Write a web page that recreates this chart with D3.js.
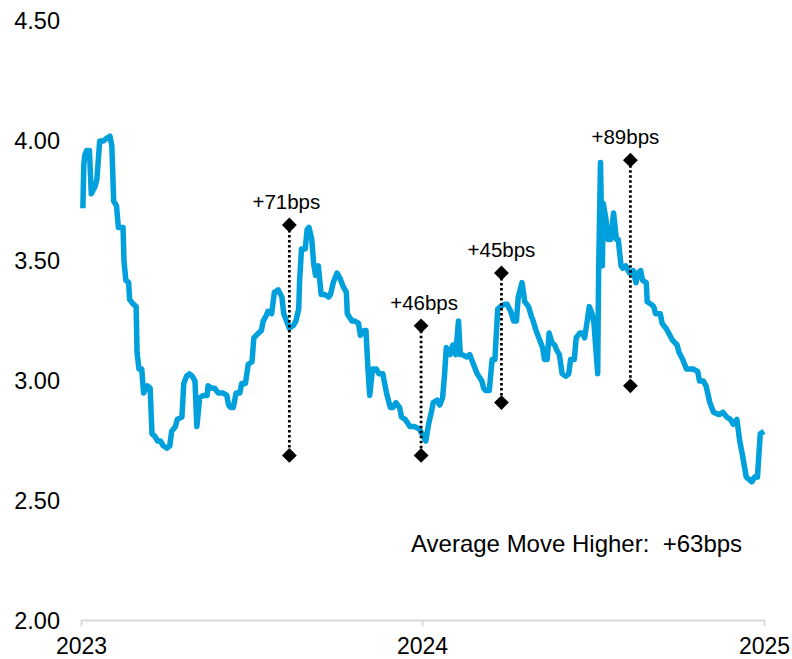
<!DOCTYPE html>
<html>
<head>
<meta charset="utf-8">
<script src="https://cdn.jsdelivr.net/npm/d3@7"></script>
<style>
  html, body { margin: 0; padding: 0; background: #fff; }
  svg { display: block; font-family: "Liberation Sans", Arial, sans-serif; }
</style>
</head>
<body>
<svg id="chart" width="792" height="659"></svg>
<script>
// Yield series (daily closes, %)
const dates = [
  "2023-01-03","2023-01-04","2023-01-05","2023-01-07","2023-01-10","2023-01-12","2023-01-16","2023-01-18",
  "2023-01-21","2023-01-25","2023-01-28","2023-02-01","2023-02-03","2023-02-05","2023-02-08","2023-02-10",
  "2023-02-15","2023-02-16","2023-02-18","2023-02-21","2023-02-22","2023-02-26","2023-03-01","2023-03-02",
  "2023-03-04","2023-03-07","2023-03-09","2023-03-13","2023-03-16","2023-03-18","2023-03-21","2023-03-24",
  "2023-03-27","2023-03-30","2023-04-03","2023-04-06","2023-04-08","2023-04-10","2023-04-12","2023-04-14",
  "2023-04-19","2023-04-21","2023-04-24","2023-04-27","2023-04-30","2023-05-03","2023-05-05","2023-05-08",
  "2023-05-12","2023-05-16","2023-05-17","2023-05-21","2023-05-24","2023-05-28","2023-06-02","2023-06-06",
  "2023-06-08","2023-06-10","2023-06-13","2023-06-16","2023-06-20","2023-06-22","2023-06-26","2023-06-29",
  "2023-07-03","2023-07-05","2023-07-10","2023-07-13","2023-07-15","2023-07-18","2023-07-20","2023-07-24",
  "2023-07-27","2023-07-31","2023-08-04","2023-08-06","2023-08-09","2023-08-12","2023-08-16","2023-08-19",
  "2023-08-22","2023-08-23","2023-08-25","2023-08-29","2023-08-31","2023-09-02","2023-09-05","2023-09-07",
  "2023-09-09","2023-09-12","2023-09-15","2023-09-19","2023-09-23","2023-09-25","2023-09-28","2023-10-02",
  "2023-10-05","2023-10-09","2023-10-12","2023-10-13","2023-10-18","2023-10-21","2023-10-25","2023-10-27",
  "2023-10-31","2023-11-02","2023-11-04","2023-11-06","2023-11-09","2023-11-13","2023-11-16","2023-11-20",
  "2023-11-24","2023-11-28","2023-12-01","2023-12-04","2023-12-08","2023-12-10","2023-12-14","2023-12-19",
  "2023-12-24","2023-12-29","2024-01-01","2024-01-05","2024-01-08","2024-01-11","2024-01-13","2024-01-17",
  "2024-01-20","2024-01-23","2024-01-25","2024-01-27","2024-01-31","2024-02-03","2024-02-06","2024-02-09",
  "2024-02-11","2024-02-13","2024-02-18","2024-02-21","2024-02-25","2024-02-29","2024-03-05","2024-03-07",
  "2024-03-09","2024-03-13","2024-03-16","2024-03-19","2024-03-22","2024-03-25","2024-03-29","2024-04-01",
  "2024-04-05","2024-04-08","2024-04-11","2024-04-13","2024-04-17","2024-04-20","2024-04-24","2024-04-27",
  "2024-04-29","2024-05-02","2024-05-06","2024-05-09","2024-05-11","2024-05-14","2024-05-16","2024-05-19",
  "2024-05-22","2024-05-24","2024-05-27","2024-05-30","2024-06-03","2024-06-06","2024-06-08","2024-06-12",
  "2024-06-14","2024-06-18","2024-06-21","2024-06-23","2024-06-25","2024-06-28","2024-07-01","2024-07-03",
  "2024-07-07","2024-07-08","2024-07-10","2024-07-12","2024-07-13","2024-07-16","2024-07-18","2024-07-21",
  "2024-07-24","2024-07-27","2024-07-29","2024-08-01","2024-08-03","2024-08-06","2024-08-10","2024-08-14",
  "2024-08-17","2024-08-19","2024-08-22","2024-08-24","2024-08-28","2024-08-29","2024-09-02","2024-09-05",
  "2024-09-07","2024-09-12","2024-09-14","2024-09-18","2024-09-21","2024-09-25","2024-09-30","2024-10-02",
  "2024-10-06","2024-10-10","2024-10-14","2024-10-17","2024-10-22","2024-10-24","2024-10-28","2024-10-31",
  "2024-11-04","2024-11-08","2024-11-14","2024-11-18","2024-11-22","2024-11-26","2024-11-29","2024-12-03",
  "2024-12-06","2024-12-09","2024-12-13","2024-12-16","2024-12-19","2024-12-22","2024-12-25","2024-12-28",
  "2025-01-01"
];
const values = [
  3.72,3.90,3.94,3.96,3.96,3.78,3.81,3.84,
  4.00,4.00,4.01,4.02,3.98,3.75,3.73,3.64,
  3.64,3.50,3.42,3.41,3.34,3.32,3.31,3.12,
  3.05,3.05,2.95,2.98,2.97,2.78,2.77,2.75,
  2.75,2.73,2.72,2.73,2.79,2.80,2.81,2.84,
  2.85,2.99,3.02,3.03,3.02,3.00,2.81,2.93,
  2.94,2.94,2.98,2.97,2.97,2.95,2.95,2.94,
  2.90,2.89,2.89,2.95,2.95,2.99,2.99,3.07,
  3.08,3.18,3.20,3.21,3.25,3.27,3.29,3.28,
  3.37,3.38,3.35,3.28,3.25,3.22,3.23,3.25,
  3.30,3.42,3.55,3.55,3.63,3.64,3.59,3.49,
  3.44,3.48,3.36,3.36,3.35,3.36,3.41,3.45,
  3.43,3.39,3.37,3.28,3.25,3.25,3.24,3.19,
  3.21,3.21,3.06,2.94,3.05,3.05,3.03,3.03,
  2.95,2.89,2.89,2.91,2.89,2.85,2.84,2.81,
  2.81,2.80,2.78,2.75,2.82,2.87,2.91,2.92,
  2.90,2.93,3.02,3.14,3.11,3.15,3.11,3.25,
  3.11,3.11,3.10,3.11,3.07,3.03,3.00,2.97,
  2.96,2.96,3.09,3.09,3.30,3.31,3.32,3.32,
  3.29,3.25,3.25,3.35,3.41,3.33,3.31,3.27,
  3.25,3.21,3.17,3.14,3.09,3.09,3.20,3.16,
  3.15,3.13,3.11,3.03,3.02,3.03,3.09,3.09,
  3.18,3.20,3.20,3.18,3.23,3.31,3.28,3.24,
  3.03,3.46,3.91,3.48,3.74,3.67,3.59,3.59,
  3.70,3.59,3.59,3.48,3.47,3.48,3.45,3.46,
  3.41,3.45,3.46,3.42,3.41,3.33,3.32,3.31,
  3.28,3.28,3.24,3.22,3.20,3.17,3.15,3.12,
  3.09,3.05,3.05,3.05,3.04,3.00,3.00,2.98,
  2.91,2.87,2.86,2.87,2.85,2.84,2.82,2.84,
  2.75,2.69,2.60,2.59,2.58,2.60,2.60,2.78,
  2.79
];

// Episodes of rates moving higher: date, bracket ends, size of the move (bps)
const eventDates   = ["2023-08-12", "2023-12-31", "2024-03-26", "2024-08-11"];
const eventTop     = [3.65, 3.23, 3.45, 3.92];
const eventBottom  = [2.69, 2.69, 2.91, 2.98];
const eventMoves   = [71, 46, 45, 89];

// Axis ticks
const yTicks = [2.00, 2.50, 3.00, 3.50, 4.00, 4.50];
const xTicks = ["2023-01-01", "2024-01-01", "2025-01-01"];

const parse = d3.timeParse("%Y-%m-%d");
const series = dates.map((d, i) => ({ date: parse(d), value: values[i] }));

const svg = d3.select("#chart");

const x = d3.scaleTime()
  .domain([parse(xTicks[0]), parse(xTicks[xTicks.length - 1])])
  .range([81, 764]);
const y = d3.scaleLinear().domain([2.0, 4.5]).range([621, 21]);

// Y tick labels (no axis line)
const yAxis = d3.axisLeft(y).tickValues(yTicks).tickFormat(d3.format(".2f")).tickSize(0).tickPadding(0);
const yg = svg.append("g").attr("transform", "translate(60,0)").call(yAxis);
yg.select(".domain").remove();
yg.selectAll("text").attr("font-size", 23.5).attr("fill", "#000")
  .attr("font-family", "Liberation Sans, Arial, sans-serif");

// X axis: light baseline with small downward ticks
const xAxis = d3.axisBottom(x).tickValues(xTicks.map(parse))
  .tickFormat(d3.timeFormat("%Y")).tickSizeInner(6).tickSizeOuter(0).tickPadding(12);
const xg = svg.append("g").attr("transform", "translate(0,620)").call(xAxis);
xg.select(".domain").attr("stroke", "#d9d9d9").attr("stroke-width", 2);
xg.selectAll(".tick line").attr("stroke", "#d9d9d9").attr("stroke-width", 2);
xg.selectAll("text").attr("font-size", 23).attr("fill", "#000")
  .attr("font-family", "Liberation Sans, Arial, sans-serif");

// Yield line
const line = d3.line().x(d => x(d.date)).y(d => y(d.value));
svg.append("path")
  .datum(series)
  .attr("fill", "none")
  .attr("stroke", "#00a0dc")
  .attr("stroke-width", 5.5)
  .attr("stroke-linejoin", "round")
  .attr("d", line);

// Move brackets: dotted verticals capped with diamonds
const labelDx = [-3, 3, 0, -5];
const diamond = d3.symbol().type(d3.symbolDiamond2).size(140);
eventDates.forEach((d, i) => {
  const ex = x(parse(d));
  const yt = y(eventTop[i]);
  const yb = y(eventBottom[i]);
  svg.append("line")
    .attr("x1", ex).attr("x2", ex).attr("y1", yt).attr("y2", yb)
    .attr("stroke", "#000").attr("stroke-width", 2.8)
    .attr("stroke-dasharray", "2.5,2.5");
  [yt, yb].forEach(yy => {
    svg.append("path")
      .attr("d", diamond)
      .attr("transform", `translate(${ex},${yy})`)
      .attr("fill", "#000");
  });
  svg.append("text")
    .attr("x", ex + labelDx[i]).attr("y", yt - 16)
    .attr("text-anchor", "middle")
    .attr("font-size", 20.5)
    .attr("fill", "#000")
    .text(`+${eventMoves[i]}bps`);
});

// Average of the moves
const avgMove = Math.round(d3.mean(eventMoves));
svg.append("text")
  .attr("x", 411).attr("y", 552)
  .attr("font-size", 24)
  .attr("fill", "#000")
  .style("white-space", "pre")
  .text(`Average Move Higher:  +${avgMove}bps`);
</script>
</body>
</html>
